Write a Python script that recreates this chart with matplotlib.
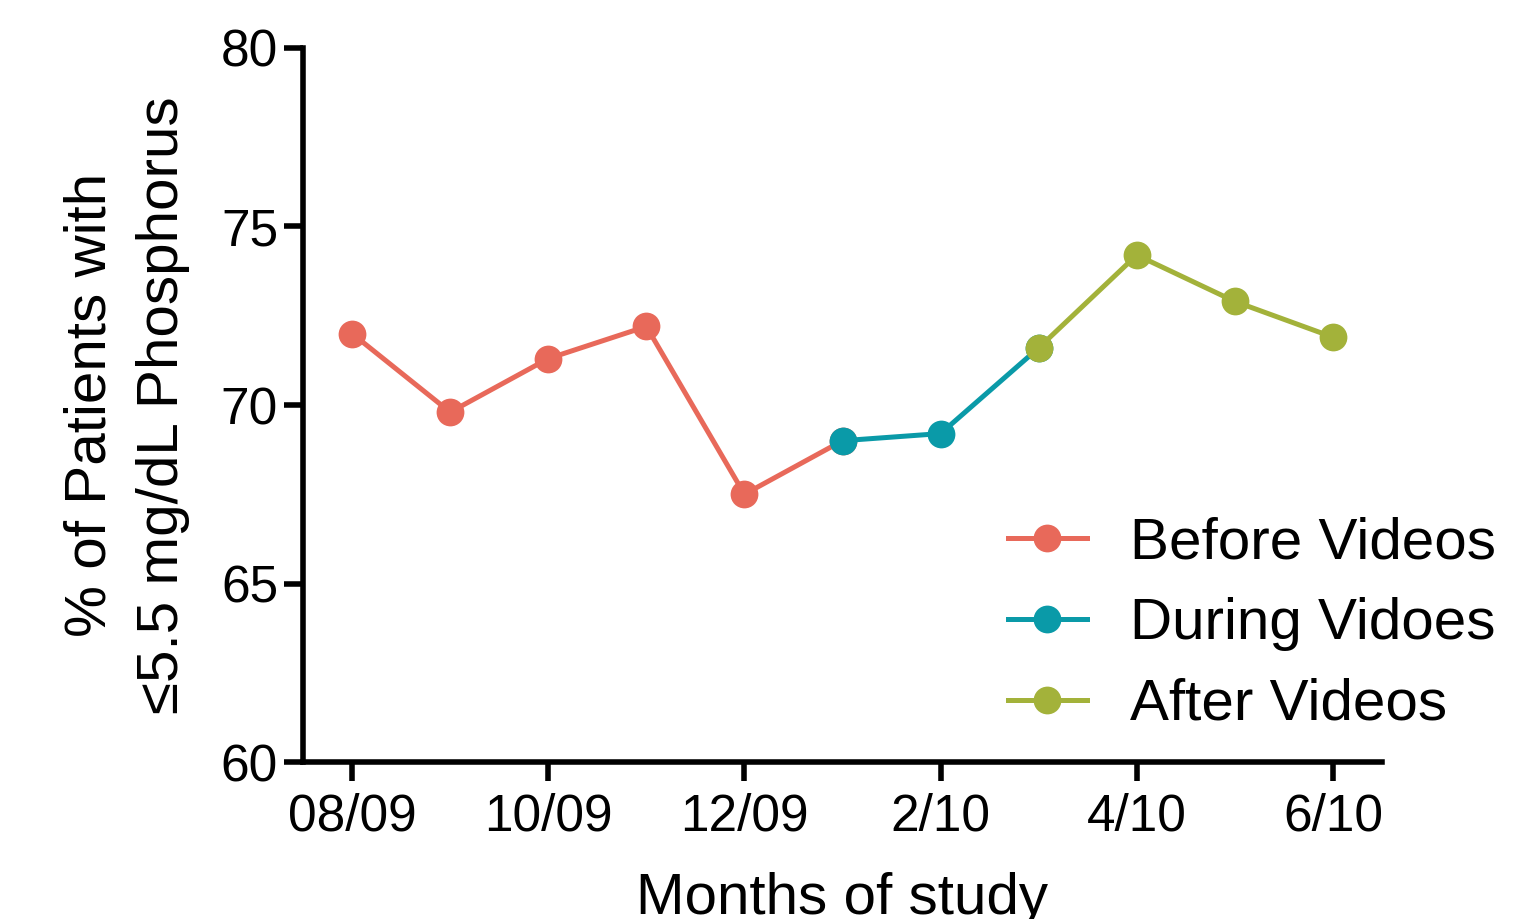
import matplotlib
matplotlib.use("Agg")
import matplotlib.pyplot as plt

plt.rcParams["font.family"] = ["Liberation Sans", "DejaVu Sans"]

# Meses del estudio (08/09 -> 6/10)
MONTH_IDX = list(range(11))
TICK_POS = [0, 2, 4, 6, 8, 10]
TICK_LABELS = ["08/09", "10/09", "12/09", "2/10", "4/10", "6/10"]

# % pacientes por fase (los tramos comparten el punto de transición)
BEFORE_X = [0, 1, 2, 3, 4, 5]
BEFORE_Y = [72.0, 69.8, 71.3, 72.2, 67.5, 69.0]
DURING_X = [5, 6, 7]
DURING_Y = [69.0, 69.2, 71.6]
AFTER_X = [7, 8, 9, 10]
AFTER_Y = [71.6, 74.2, 72.9, 71.9]

C_BEFORE = "#E8695A"
C_DURING = "#0A9AA8"
C_AFTER = "#A3B23A"

fig = plt.figure(figsize=(15.13, 9.19), dpi=100)
ax = fig.add_axes([0.2003, 0.1708, 0.7131, 0.777])

kw = dict(linewidth=3.6, marker="o", markersize=20, markeredgewidth=0)
ax.plot(BEFORE_X, BEFORE_Y, color=C_BEFORE, label="Before Videos", **kw)
ax.plot(DURING_X, DURING_Y, color=C_DURING, label="During Vidoes", **kw)
ax.plot(AFTER_X, AFTER_Y, color=C_AFTER, label="After Videos", **kw)

ax.set_xlim(-0.5, 10.5)
ax.set_ylim(60, 80)
ax.set_xticks(TICK_POS)
ax.set_xticklabels(TICK_LABELS)
ax.set_yticks([60, 65, 70, 75, 80])

for s in ["top", "right"]:
    ax.spines[s].set_visible(False)
for s in ["left", "bottom"]:
    ax.spines[s].set_linewidth(4)
ax.tick_params(axis="both", length=14, width=4, labelsize=37)
ax.tick_params(axis="x", pad=8)
ax.tick_params(axis="y", pad=4)

ax.set_ylabel("% of Patients with\n≤5.5 mg/dL Phosphorus", fontsize=42,
              linespacing=1.45, labelpad=22)
ax.set_xlabel("Months of study", fontsize=42, labelpad=22)

ax.legend(loc="lower left", bbox_to_anchor=(0.666, 0.2035),
          bbox_transform=fig.transFigure, frameon=False, borderpad=0,
          borderaxespad=0, fontsize=42, handlelength=1.36,
          handletextpad=0.74, labelspacing=0.46)

fig.savefig("out.png", dpi=100)
